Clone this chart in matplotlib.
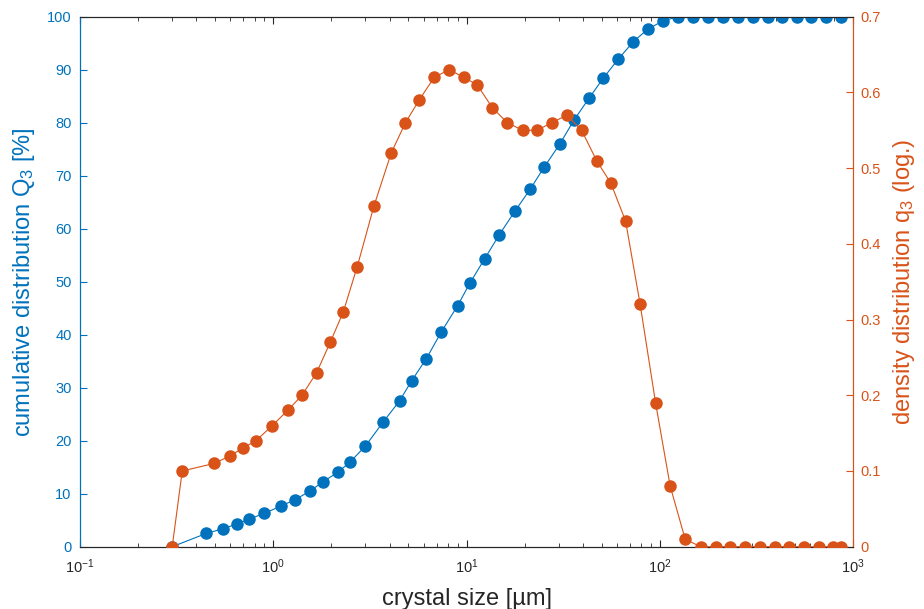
import matplotlib
matplotlib.use('Agg')
import matplotlib.pyplot as plt

plt.rcParams['font.family'] = ['Liberation Sans', 'DejaVu Sans']
plt.rcParams['mathtext.fontset'] = 'custom'
plt.rcParams['mathtext.rm'] = 'Liberation Sans'
plt.rcParams['mathtext.it'] = 'Liberation Sans'
plt.rcParams['axes.unicode_minus'] = False

BLUE = '#0072BD'
ORANGE = '#D95319'
DARK = '#262626'

# cumulative distribution Q3 [%]
size_q = [0.3, 0.45, 0.55, 0.65, 0.75, 0.9, 1.1, 1.3, 1.55, 1.8, 2.15, 2.5,
          3.0, 3.7, 4.5, 5.2, 6.2, 7.4, 9.0, 10.4, 12.4, 14.8, 17.8, 21.4,
          25.2, 30.3, 36, 43, 51, 61, 73, 87, 104, 124, 149, 178, 213, 253,
          302, 361, 428, 510, 605, 726, 868]
Q3 = [0, 2.5, 3.4, 4.3, 5.2, 6.3, 7.7, 8.9, 10.5, 12.2, 14.0, 16.0,
      19.0, 23.5, 27.5, 31.3, 35.5, 40.5, 45.5, 49.7, 54.3, 58.9, 63.3, 67.5,
      71.6, 75.9, 80.5, 84.6, 88.4, 92.0, 95.3, 97.7, 99.2, 100, 100, 100,
      100, 100, 100, 100, 100, 100, 100, 100, 100]

# density distribution q3 (log.)
size_d = [0.3, 0.338, 0.495, 0.597, 0.695, 0.814, 0.988, 1.187, 1.408, 1.677,
          1.972, 2.302, 2.72, 3.319, 4.077, 4.829, 5.692, 6.806, 8.136, 9.66,
          11.36, 13.58, 16.24, 19.51, 23.13, 27.66, 33.07, 39.39, 47.1, 55.85,
          66.55, 79.15, 95.1, 113.2, 135.3, 162.6, 194.4, 231.3, 275.6, 329.5,
          393.9, 467.1, 556.6, 663.0, 788.9, 861.6]
q3 = [0, 0.100, 0.110, 0.120, 0.130, 0.140, 0.160, 0.180, 0.200, 0.230,
      0.270, 0.310, 0.370, 0.450, 0.520, 0.560, 0.590, 0.620, 0.630, 0.620,
      0.610, 0.580, 0.560, 0.550, 0.550, 0.560, 0.570, 0.550, 0.510, 0.480,
      0.430, 0.320, 0.190, 0.080, 0.010, 0, 0, 0, 0, 0,
      0, 0, 0, 0, 0, 0]

fig = plt.figure(figsize=(9.24, 6.09), dpi=100)
ax = fig.add_axes([0.0866, 0.1023, 0.8366, 0.8703])
ax2 = ax.twinx()

ax.plot(size_q, Q3, '-o', color=BLUE, lw=0.8, ms=8, zorder=3)
ax2.plot(size_d, q3, '-o', color=ORANGE, lw=0.8, ms=8, zorder=3)

ax.set_xscale('log')
ax.set_xlim(0.1, 1000)
ax.set_ylim(0, 100)
ax2.set_ylim(0, 0.7)
ax.set_yticks(range(0, 101, 10))
ax2.set_yticks([0, 0.1, 0.2, 0.3, 0.4, 0.5, 0.6, 0.7])
ax2.set_yticklabels(['0', '0.1', '0.2', '0.3', '0.4', '0.5', '0.6', '0.7'])

ax.tick_params(axis='x', which='both', direction='in', top=True, colors=DARK,
               labelsize=10.5, pad=8)
ax.tick_params(axis='x', which='major', length=5)
ax.tick_params(axis='x', which='minor', length=3)
ax.tick_params(axis='y', direction='in', length=5, colors=BLUE, labelsize=10.5, pad=6)
ax2.tick_params(axis='y', direction='in', length=5, colors=ORANGE, labelsize=10.5, pad=5)

for a in (ax, ax2):
    a.spines['top'].set_color(DARK)
    a.spines['bottom'].set_color(DARK)
    a.spines['left'].set_color(BLUE)
    a.spines['right'].set_color(ORANGE)

ax.set_xlabel('crystal size [µm]', fontsize=17, color=DARK, labelpad=8)
ax.set_ylabel('cumulative distribution Q$_3$ [%]', fontsize=17, color=BLUE, labelpad=7)
ax2.set_ylabel('density distribution q$_3$ (log.)', fontsize=17, color=ORANGE, labelpad=8)

plt.savefig('out.png', dpi=100)
plt.close('all')
